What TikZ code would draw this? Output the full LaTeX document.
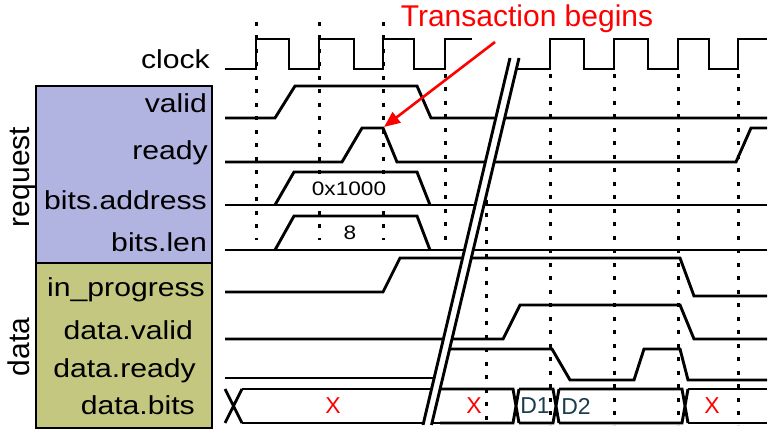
\documentclass[tikz,border=0pt]{standalone}
\usepackage{fontspec}
\setmainfont{Liberation Sans}
\newfontfamily\stretchfont[FakeStretch=1.16]{Liberation Sans}
\usetikzlibrary{arrows.meta}
\definecolor{reqfill}{HTML}{B1B3E0}
\definecolor{datafill}{HTML}{C3C77F}
\definecolor{dteal}{HTML}{1A3C4C}
\definecolor{redc}{HTML}{FF0000}
\begin{document}
\begin{tikzpicture}[x=1pt,y=-1pt,
  sig/.style={line width=2.9pt},
  gridline/.style={line width=3pt, dash pattern=on 4pt off 9.5pt},
  lbl/.style={font=\stretchfont\fontsize{26}{30}\selectfont, anchor=base east, inner sep=0pt},
  grp/.style={font=\fontsize{30}{34}\selectfont, rotate=90, anchor=base, inner sep=0pt},
  val/.style={font=\stretchfont\fontsize{19.5}{22}\selectfont, inner sep=0pt},
  xlbl/.style={font=\fontsize{23}{26}\selectfont, text=redc, inner sep=0pt},
  dlbl/.style={font=\fontsize{23}{26}\selectfont, text=dteal, inner sep=0pt},
  panel/.style={line width=2.7pt, draw=black},
  titlestyle/.style={font=\fontsize{30}{34}\selectfont, text=redc, anchor=base, inner sep=0pt},
  arr/.style={line width=2.6pt, draw=redc, -{Triangle[length=16pt,width=13pt]}}
]
\useasboundingbox (0,0) rectangle (777,430);

% panels
\draw[panel, fill=reqfill] (36,86) rectangle (212,263);
\draw[panel, fill=datafill] (36,263) rectangle (212,428);

% group labels
\node[grp] (greq) at (30,177) {request};
\node[grp] (gdata) at (30,347) {data};

% signal labels
\node[lbl] (lclock) at (210,69) {clock};
\node[lbl] (lvalid) at (207,113) {valid};
\node[lbl] (lready) at (208,160) {ready};
\node[lbl] (laddr) at (207,210) {bits.address};
\node[lbl] (llen) at (207,252) {bits.len};
\node[lbl] (lprog) at (205,297) {in\_progress};
\node[lbl] (ldvalid) at (193,340) {data.valid};
\node[lbl] (ldready) at (196,378) {data.ready};
\node[lbl] (ldbits) at (195,415) {data.bits};

% dotted clock markers
\foreach \x in {256,319,383} \draw[gridline] (\x,22) -- (\x,240);
\draw[gridline] (445,74) -- (445,240);
\foreach \x in {550,614,678,738} \draw[gridline] (\x,74) -- (\x,425);
\draw[gridline] (486,200) -- (486,425);

% value text box of bits.address (white background hides the markers)
\node[val, fill=white, minimum width=84pt, minimum height=29pt] (vaddr) at (349,189) {0x1000};

% clock
\draw[sig] (225,69)--(256,69)--(256,39)--(289,39)--(289,69)--(319,69)--(319,39)--(354,39)--(354,69)--(383,69)--(383,39)--(414,39)--(414,69)--(445,69)--(445,39)--(472,39);
\draw[sig] (516,69)--(550,69)--(550,39)--(584,39)--(584,69)--(614,69)--(614,39)--(648,39)--(648,69)--(678,69)--(678,39)--(709,39)--(709,69)--(738,69)--(738,39)--(767,39);

% valid
\draw[sig] (225,118)--(275,118)--(295,86)--(417,86)--(431,118)--(767,118);
% ready
\draw[sig] (225,162)--(342,162)--(362,128)--(383,128)--(397,162)--(736,162)--(751,128)--(767,128);
% bits.address
\draw[sig] (225,205)--(767,205);
\draw[sig] (275,205)--(294,172)--(417,172)--(430,205);
% bits.len
\draw[sig] (225,250)--(767,250);
\draw[sig] (275,250)--(294,216)--(417,216)--(430,250);
\node[val] (vlen) at (350,233) {8};
% in_progress
\draw[sig] (225,292)--(383,292)--(400,258)--(680,258)--(694,296)--(767,296);
% data.valid
\draw[sig] (225,339)--(503,339)--(520,305)--(680,305)--(694,339)--(767,339);
% data.ready
\draw[sig] (225,378)--(440,378);
\draw[sig] (445,349)--(552,349)--(570,380)--(634,380)--(644,349)--(680,349)--(688,380)--(767,380);
% data.bits
\draw[sig] (225,389)--(242,423) (225,423)--(242,389);
\draw[sig] (242,389)--(440,389) (242,423)--(440,423);
\draw[sig] (440,389)--(513,389)--(519,423) (440,423)--(513,423)--(519,389);
\draw[sig] (519,389)--(553,389)--(559,423) (519,423)--(553,423)--(559,389);
\draw[sig] (559,389)--(682,389)--(688,423) (559,423)--(682,423)--(688,389);
\draw[sig] (688,389)--(767,389) (688,423)--(767,423);
\node[xlbl] (x1) at (333,406) {X};
\node[xlbl] (x2) at (474,406) {X};
\node[xlbl] (x3) at (712,406) {X};
\node[dlbl] (d1) at (535,406) {D1};
\node[dlbl] (d2) at (576,406) {D2};

% time break
\fill[white] (510,58)--(519,58)--(431.5,425)--(423,425)--cycle;
\draw[sig] (510,58)--(423,425);
\draw[sig] (519,58)--(431.5,425);

% annotation
\node[titlestyle] (title) at (527,27) {Transaction begins};
\coordinate (arrowstart) at (495,42);
\coordinate (arrowtip) at (384,127);
\draw[arr] (arrowstart) -- (arrowtip);
\end{tikzpicture}
\end{document}
